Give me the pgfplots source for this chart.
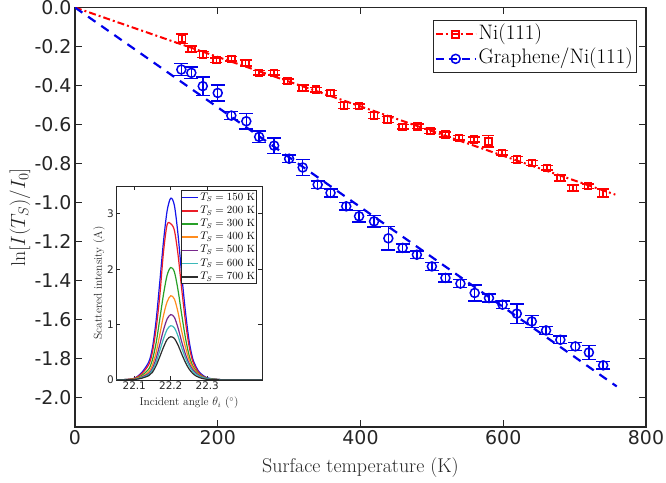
\documentclass[border=0pt]{standalone}
\usepackage{fontspec}
\setsansfont{DejaVu Sans}
\usepackage{pgfplots}
\usepackage{pgfplotstable}
\pgfplotsset{compat=1.18}
\definecolor{axcol}{RGB}{38,38,38}
\definecolor{mred}{RGB}{255,0,0}
\definecolor{mblue}{RGB}{0,0,235}
\definecolor{ca}{RGB}{20,20,235}
\definecolor{cb}{RGB}{235,30,40}
\definecolor{cc}{RGB}{40,160,40}
\definecolor{cd}{RGB}{255,140,30}
\definecolor{ce}{RGB}{120,40,140}
\definecolor{cf}{RGB}{60,185,185}
\definecolor{cg}{RGB}{45,45,45}

\pgfplotstableread{
T y e
150 -0.160 0.025
163 -0.212 0.015
179 -0.241 0.015
198 -0.270 0.012
219 -0.263 0.012
239 -0.284 0.015
258 -0.335 0.012
279 -0.335 0.012
298 -0.378 0.012
319 -0.412 0.015
338 -0.421 0.012
358 -0.438 0.012
377 -0.503 0.015
398 -0.506 0.012
419 -0.554 0.015
438 -0.574 0.015
459 -0.612 0.012
480 -0.609 0.012
498 -0.634 0.012
519 -0.651 0.012
538 -0.668 0.012
559 -0.677 0.012
579 -0.686 0.030
598 -0.745 0.012
619 -0.779 0.015
640 -0.797 0.012
661 -0.822 0.012
680 -0.873 0.015
698 -0.925 0.015
719 -0.916 0.012
740 -0.950 0.020
}\nidata

\pgfplotstableread{
T y e
149 -0.318 0.030
163 -0.335 0.030
179 -0.403 0.047
200 -0.438 0.040
219 -0.554 0.020
240 -0.583 0.040
258 -0.663 0.030
279 -0.708 0.040
300 -0.775 0.020
319 -0.820 0.040
340 -0.908 0.020
358 -0.950 0.020
380 -1.019 0.020
398 -1.070 0.030
419 -1.096 0.030
439 -1.183 0.060
459 -1.232 0.020
479 -1.267 0.020
500 -1.327 0.020
519 -1.386 0.020
540 -1.415 0.020
560 -1.463 0.040
580 -1.489 0.020
599 -1.523 0.020
619 -1.569 0.050
640 -1.609 0.030
660 -1.655 0.020
680 -1.703 0.020
701 -1.737 0.020
720 -1.768 0.036
740 -1.834 0.020
}\grdata

\begin{document}
\begin{tikzpicture}
\useasboundingbox (0,0) rectangle (666bp,483bp);
\begin{axis}[
  at={(75bp,56bp)}, anchor=south west, scale only axis,
  width=571bp, height=419.5bp,
  xmin=0, xmax=800, ymin=-2.15, ymax=0,
  xtick={0,200,400,600,800}, xticklabels={0,200,400,600,800},
  ytick={-2,-1.8,-1.6,-1.4,-1.2,-1,-0.8,-0.6,-0.4,-0.2,0},
  yticklabels={-2.0,-1.8,-1.6,-1.4,-1.2,-1.0,-0.8,-0.6,-0.4,-0.2,0.0},
  tick align=inside, major tick length=7bp,
  tick style={axcol, line width=0.8bp},
  axis line style={axcol, line width=1.1bp},
  ticklabel style={font=\sffamily\fontsize{19}{22}\selectfont, text=axcol},
  xlabel={Surface temperature (K)},
  ylabel={$\ln[I(T_S)/I_0]$},
  label style={font=\fontsize{20}{23}\selectfont, text=axcol},
  xlabel style={at={(axis description cs:0.5,-0.0977)}, anchor=center},
  ylabel style={at={(axis description cs:-0.0963,0.5)}, anchor=center},
  legend style={at={(0.984,0.970)}, anchor=north east, draw=axcol, line width=1bp,
    fill=white, font=\fontsize{21}{24}\selectfont, inner sep=1.5bp,
    nodes={inner sep=2bp, text height=15bp, text depth=5.5bp}},
  legend cell align=left,
  legend image code/.code={\draw[mark repeat=2,mark phase=2,#1] plot coordinates {(0bp,0bp) (20bp,0bp) (40bp,0bp)};},
]
\addlegendimage{mred, line width=1.8bp, dash pattern=on 7bp off 3bp on 2bp off 3bp, mark=square, mark size=3.5bp, mark options={solid, line width=1.5bp}}
\addlegendentry{Ni(111)}
\addlegendimage{mblue, line width=2bp, dash pattern=on 8bp off 5bp, mark=o, mark size=4.5bp, mark options={solid, line width=1.5bp}}
\addlegendentry{Graphene/Ni(111)}

\addplot[mred, line width=2bp, dash pattern=on 7bp off 3bp on 2bp off 3bp, forget plot] coordinates {(0,0) (757,-0.959)};
\addplot[mblue, line width=2.2bp, dash pattern=on 9bp off 7bp, forget plot] coordinates {(0,0) (759,-1.942)};

\addplot[mred, only marks, mark=square, mark size=3.5bp, line width=1.5bp, forget plot,
  error bars/.cd, y dir=both, y explicit,
  error bar style={line width=1.5bp, mred},
  error mark options={rotate=90, mark size=6bp, line width=1.5bp, mred}]
  table[x=T, y=y, y error=e] {\nidata};
\addplot[mblue, only marks, mark=o, mark size=4.5bp, line width=1.5bp, forget plot,
  error bars/.cd, y dir=both, y explicit,
  error bar style={line width=1.5bp, mblue},
  error mark options={rotate=90, mark size=7bp, line width=1.5bp, mblue}]
  table[x=T, y=y, y error=e] {\grdata};
\end{axis}

\begin{axis}[
  at={(116bp,103bp)}, anchor=south west, scale only axis,
  width=146bp, height=194bp,
  axis background/.style={fill=white},
  xmin=22.05, xmax=22.45, ymin=0, ymax=3.5,
  xtick={22.1,22.2,22.3}, xticklabels={22.1,22.2,22.3},
  ytick={0,1,2,3}, yticklabels={0,1,2,3},
  tick align=inside, major tick length=4bp,
  tick style={axcol, line width=0.6bp},
  axis line style={axcol, line width=0.9bp},
  ticklabel style={font=\sffamily\fontsize{10.5}{12}\selectfont, text=axcol},
  xticklabel style={inner sep=2bp},
  yticklabel style={inner sep=2bp},
  xlabel={Incident angle $\theta_i$ ($^\circ$)},
  ylabel={Scattered intensity (A)},
  label style={font=\fontsize{11.5}{13}\selectfont, text=axcol},
  xlabel style={at={(axis description cs:0.5,-0.117)}, anchor=center},
  ylabel style={at={(axis description cs:-0.116,0.5)}, anchor=center},
  legend style={at={(0.966,0.979)}, anchor=north east, draw=axcol, line width=0.8bp,
    fill=white, font=\fontsize{10.5}{12}\selectfont, inner sep=0.5bp,
    nodes={inner sep=1.2bp, text height=8bp, text depth=2.8bp}},
  legend cell align=left,
  legend image code/.code={\draw[#1] plot coordinates {(0bp,0bp) (16bp,0bp)};},
]
\addlegendimage{color=ca, line width=1.5bp}
\addlegendentry{$T_S = 150$ K}
\addlegendimage{color=cb, line width=1.5bp}
\addlegendentry{$T_S = 200$ K}
\addlegendimage{color=cc, line width=1.5bp}
\addlegendentry{$T_S = 300$ K}
\addlegendimage{color=cd, line width=1.5bp}
\addlegendentry{$T_S = 400$ K}
\addlegendimage{color=ce, line width=1.5bp}
\addlegendentry{$T_S = 500$ K}
\addlegendimage{color=cf, line width=1.5bp}
\addlegendentry{$T_S = 600$ K}
\addlegendimage{color=cg, line width=1.5bp}
\addlegendentry{$T_S = 700$ K}
\addplot[ca, line width=1.2bp, smooth, forget plot] coordinates {(22.05,0) (22.08,0.01) (22.10,0.03) (22.12,0.13) (22.14,0.33) (22.15,0.59) (22.16,1.08) (22.17,1.77) (22.18,2.49) (22.19,3.05) (22.20,3.28) (22.21,3.15) (22.22,2.62) (22.23,1.90) (22.24,1.25) (22.25,0.72) (22.26,0.39) (22.27,0.23) (22.28,0.13) (22.30,0.04) (22.33,0.01) (22.36,0) (22.45,0)};
\addplot[cb, line width=1.2bp, smooth, forget plot] coordinates {(22.05,0) (22.08,0.01) (22.10,0.03) (22.12,0.11) (22.14,0.28) (22.15,0.51) (22.16,0.93) (22.17,1.52) (22.18,2.30) (22.19,2.80) (22.20,2.82) (22.21,2.70) (22.22,2.26) (22.23,1.64) (22.24,1.07) (22.25,0.62) (22.26,0.34) (22.27,0.20) (22.28,0.11) (22.30,0.03) (22.33,0.01) (22.36,0) (22.45,0)};
\addplot[cc, line width=1.2bp, smooth, forget plot] coordinates {(22.05,0) (22.08,0.01) (22.10,0.02) (22.12,0.08) (22.14,0.20) (22.15,0.37) (22.16,0.67) (22.17,1.10) (22.18,1.54) (22.19,1.89) (22.20,2.03) (22.21,1.95) (22.22,1.62) (22.23,1.18) (22.24,0.77) (22.25,0.45) (22.26,0.26) (22.27,0.16) (22.28,0.09) (22.30,0.03) (22.33,0.01) (22.36,0) (22.45,0)};
\addplot[cd, line width=1.2bp, smooth, forget plot] coordinates {(22.05,0) (22.08,0.005) (22.10,0.02) (22.12,0.06) (22.14,0.15) (22.15,0.27) (22.16,0.50) (22.17,0.82) (22.18,1.16) (22.19,1.41) (22.20,1.52) (22.21,1.46) (22.22,1.22) (22.23,0.88) (22.24,0.60) (22.25,0.37) (22.26,0.23) (22.27,0.14) (22.28,0.08) (22.30,0.02) (22.33,0.005) (22.36,0) (22.45,0)};
\addplot[ce, line width=1.2bp, smooth, forget plot] coordinates {(22.05,0) (22.08,0.004) (22.10,0.01) (22.12,0.05) (22.14,0.12) (22.15,0.21) (22.16,0.39) (22.17,0.64) (22.18,0.90) (22.19,1.10) (22.20,1.18) (22.21,1.13) (22.22,0.94) (22.23,0.69) (22.24,0.47) (22.25,0.30) (22.26,0.19) (22.27,0.12) (22.28,0.07) (22.30,0.02) (22.33,0.005) (22.36,0) (22.45,0)};
\addplot[cf, line width=1.2bp, smooth, forget plot] coordinates {(22.05,0) (22.08,0.003) (22.10,0.01) (22.12,0.04) (22.14,0.10) (22.15,0.18) (22.16,0.32) (22.17,0.53) (22.18,0.74) (22.19,0.91) (22.20,0.98) (22.21,0.94) (22.22,0.79) (22.23,0.58) (22.24,0.40) (22.25,0.26) (22.26,0.16) (22.27,0.10) (22.28,0.06) (22.30,0.02) (22.33,0.004) (22.36,0) (22.45,0)};
\addplot[cg, line width=1.2bp, smooth, forget plot] coordinates {(22.05,0) (22.08,0.003) (22.10,0.01) (22.12,0.03) (22.14,0.08) (22.15,0.14) (22.16,0.26) (22.17,0.42) (22.18,0.59) (22.19,0.73) (22.20,0.78) (22.21,0.75) (22.22,0.63) (22.23,0.47) (22.24,0.32) (22.25,0.20) (22.26,0.12) (22.27,0.07) (22.28,0.04) (22.30,0.01) (22.33,0.003) (22.36,0) (22.45,0)};
\node[anchor=south west, inner sep=0.5bp, font=\sffamily\fontsize{9}{10}\selectfont, text=axcol] at (rel axis cs:-0.04,1) {×10\textsuperscript{-8}};
\end{axis}
\end{tikzpicture}
\end{document}
